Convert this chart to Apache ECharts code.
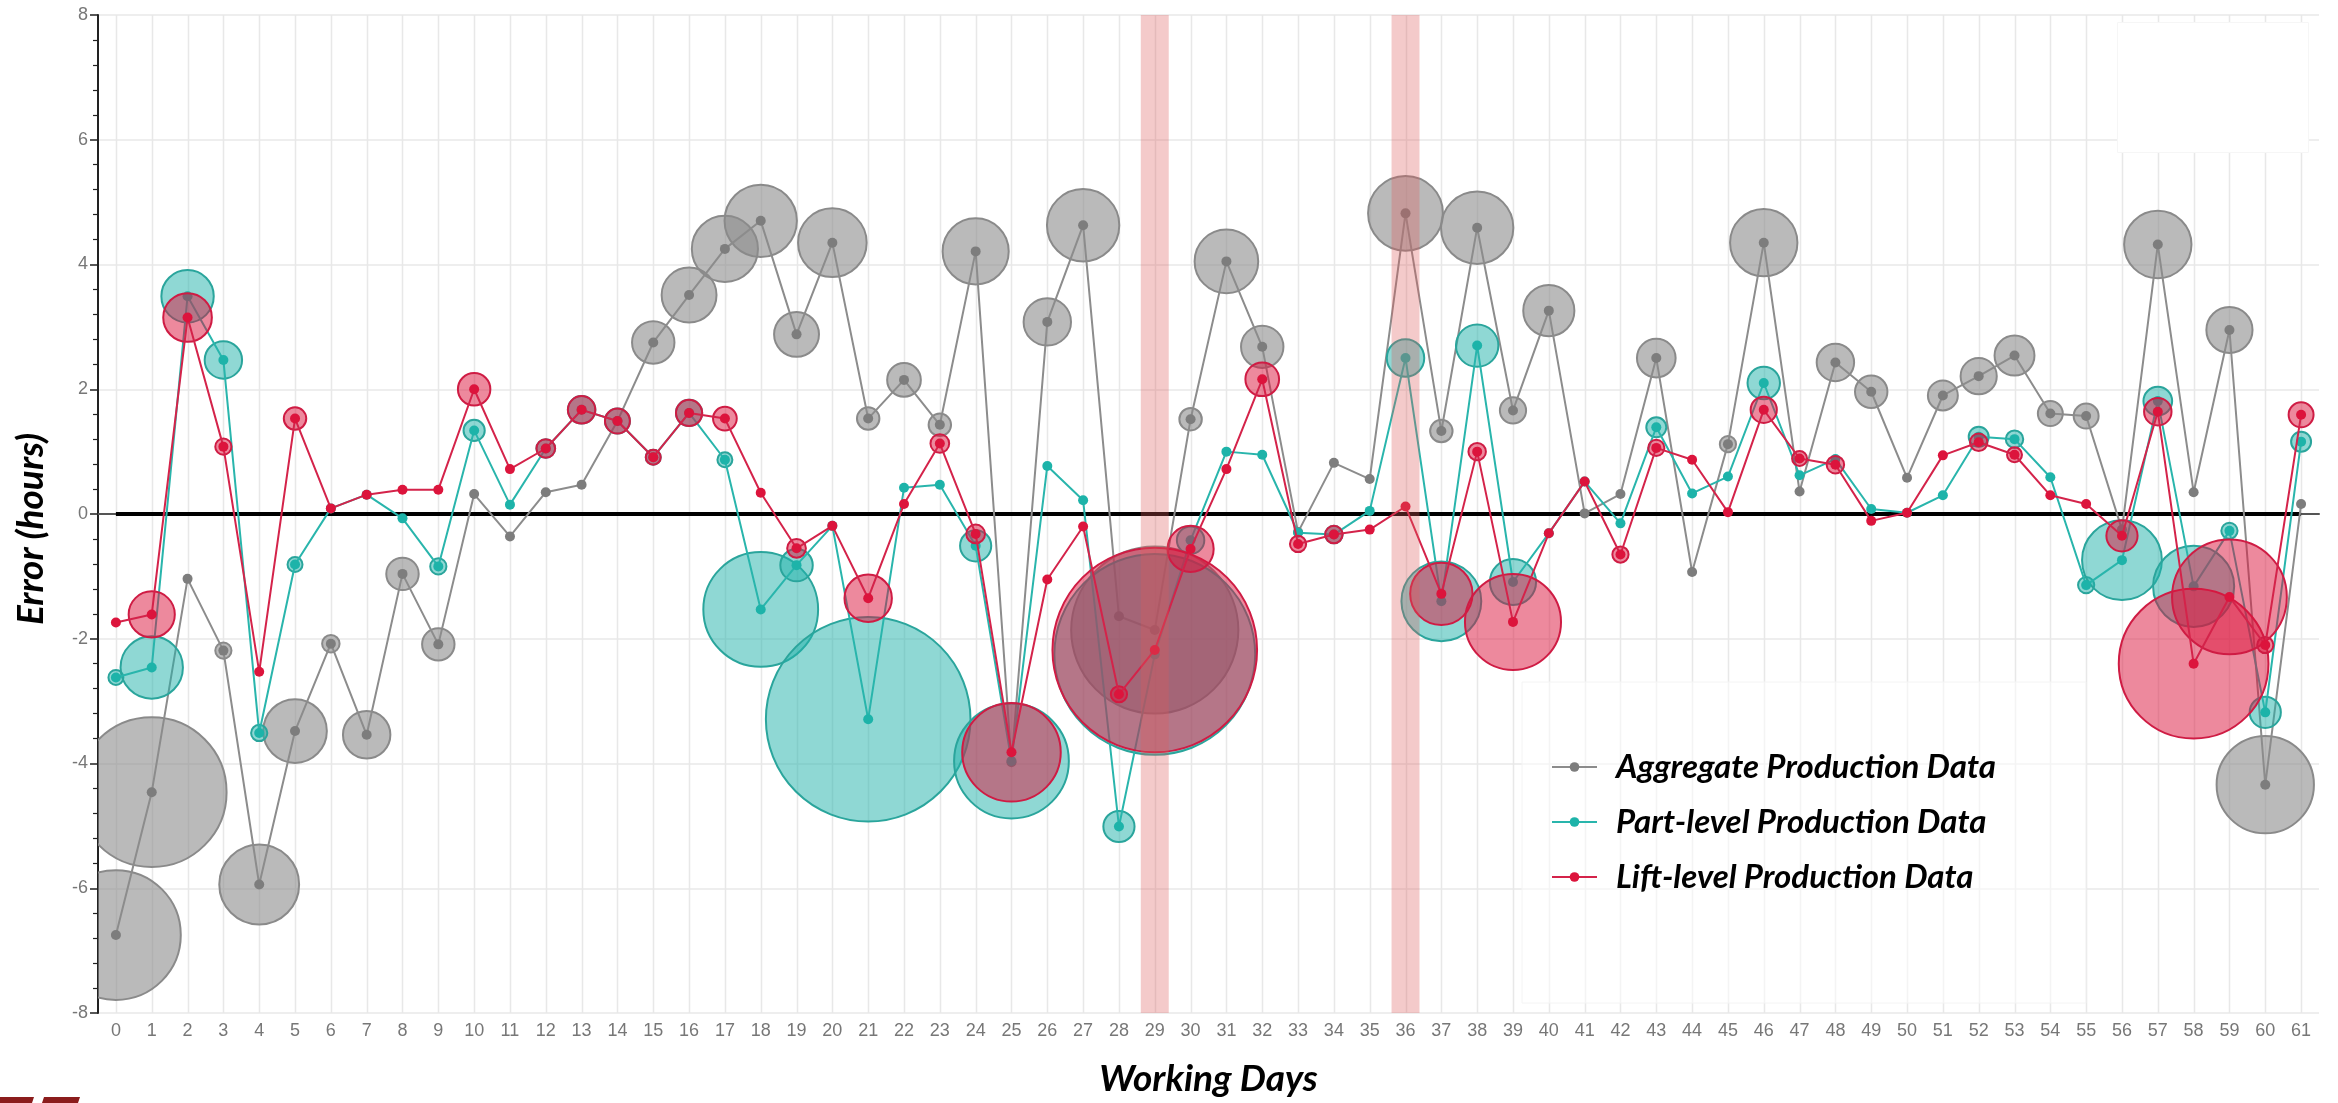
<!DOCTYPE html>
<html><head><meta charset="utf-8">
<script src="https://cdn.jsdelivr.net/npm/echarts@6/dist/echarts.min.js"></script>
<style>html,body{margin:0;padding:0;background:#fff}#c{width:2338px;height:1103px}</style>
</head><body><div id="c"></div>
<script>
const days = Array.from({length: 62}, (_, i) => String(i));

const aggregateError = [-6.75, -4.46, -1.04, -2.19, -5.94, -3.48, -2.08, -3.54, -0.96, -2.09,
  0.32, -0.36, 0.35, 0.47, 1.49, 2.75, 3.51, 4.25, 4.70, 2.88,
  4.35, 1.53, 2.15, 1.43, 4.21, -3.98, 3.08, 4.63, -1.64, -1.86,
  1.52, 4.05, 2.68, -0.29, 0.82, 0.56, 4.82, 1.33, 4.59, 1.66,
  3.26, 0.01, 0.32, 2.50, -0.93, 1.12, 4.35, 0.36, 2.43, 1.96,
  0.58, 1.90, 2.21, 2.54, 1.61, 1.57, -0.25, 4.32, 0.35, 2.95,
  -4.34, 0.16];
const aggregateSpread = [1.04, 1.20, 0, 0.13, 0.64, 0.51, 0.14, 0.38, 0.26, 0.26,
  0, 0, 0, 0, 0, 0.34, 0.44, 0.53, 0.58, 0.36,
  0.55, 0.18, 0.27, 0.18, 0.53, 0, 0.38, 0.58, 0, 1.34,
  0.18, 0.51, 0.34, 0, 0, 0, 0.60, 0.18, 0.58, 0.21,
  0.41, 0, 0, 0.31, 0, 0.13, 0.54, 0, 0.30, 0.26,
  0, 0.24, 0.29, 0.32, 0.20, 0.20, 0, 0.54, 0, 0.37,
  0.78, 0];

const partError = [-2.62, -2.46, 3.49, 2.47, -3.51, -0.81, 0.09, 0.31, -0.07, -0.84,
  1.34, 0.15, 1.05, 1.67, 1.49, 0.91, 1.62, 0.87, -1.53, -0.82,
  -0.19, -3.29, 0.42, 0.47, -0.51, -3.96, 0.77, 0.22, -5.01, -2.25,
  -0.42, 1.00, 0.95, -0.30, -0.33, 0.05, 2.50, -1.40, 2.70, -1.09,
  -0.31, 0.52, -0.15, 1.39, 0.33, 0.60, 2.10, 0.62, 0.88, 0.08,
  0.02, 0.30, 1.24, 1.20, 0.59, -1.14, -0.74, 1.81, -1.16, -0.27,
  -3.18, 1.16];
const partSpread = [0.12, 0.50, 0.42, 0.30, 0.13, 0.12, 0, 0, 0, 0.13,
  0.17, 0, 0.15, 0.22, 0.20, 0.12, 0.21, 0.12, 0.92, 0.26,
  0, 1.64, 0, 0, 0.25, 0.92, 0, 0, 0.25, 1.61,
  0.22, 0, 0, 0, 0.14, 0, 0.30, 0.64, 0.34, 0.37,
  0, 0, 0, 0.16, 0, 0, 0.26, 0, 0, 0,
  0, 0, 0.16, 0.14, 0, 0.13, 0.64, 0.23, 0.65, 0.13,
  0.25, 0.16];

const liftError = [-1.74, -1.61, 3.15, 1.08, -2.53, 1.53, 0.09, 0.31, 0.39, 0.39,
  2.00, 0.72, 1.05, 1.67, 1.49, 0.91, 1.62, 1.53, 0.34, -0.55,
  -0.19, -1.35, 0.16, 1.13, -0.32, -3.82, -1.05, -0.20, -2.89, -2.18,
  -0.56, 0.72, 2.16, -0.48, -0.33, -0.25, 0.12, -1.28, 1.00, -1.73,
  -0.31, 0.52, -0.65, 1.06, 0.87, 0.03, 1.67, 0.89, 0.79, -0.11,
  0.02, 0.94, 1.15, 0.95, 0.30, 0.16, -0.35, 1.64, -2.40, -1.33,
  -2.10, 1.59];
const liftSpread = [0, 0.37, 0.39, 0.13, 0, 0.18, 0, 0, 0, 0,
  0.26, 0, 0.15, 0.22, 0.20, 0.12, 0.21, 0.19, 0, 0.15,
  0, 0.38, 0, 0.15, 0.15, 0.79, 0, 0, 0.13, 1.64,
  0.37, 0, 0.27, 0.13, 0.14, 0, 0, 0.50, 0.14, 0.77,
  0, 0, 0.13, 0.13, 0, 0, 0.21, 0.12, 0.14, 0,
  0, 0, 0.14, 0.12, 0, 0, 0.25, 0.22, 1.20, 0.92,
  0.13, 0.20];

const highlightDays = [29, 36];
const seriesNames = ['Aggregate Production Data', 'Part-level Production Data', 'Lift-level Production Data'];

const chart = echarts.init(document.getElementById('c'), null, {renderer: 'canvas'});

function bubbleSeries(name, values, spreads, fill, stroke, z) {
  return {
    type: 'custom', name: name + ' (spread)', z: z, clip: true, silent: true,
    data: values.map((v, i) => [i, v, spreads[i]]),
    renderItem(params, api) {
      const r = api.value(2);
      if (!r) return null;
      const c = api.coord([api.value(0), api.value(1)]);
      const rp = Math.abs(api.size([0, r])[1]);
      return {type: 'circle', shape: {cx: c[0], cy: c[1], r: rp},
        style: {fill: fill, stroke: stroke, lineWidth: 2}};
    }
  };
}
function lineSeries(name, values, color, lineColor, z) {
  return {
    type: 'line', name: name, z: z, data: values, symbol: 'circle', symbolSize: 10,
    showAllSymbol: true, silent: true,
    itemStyle: {color: color},
    lineStyle: {color: lineColor, width: 2}
  };
}

const titleFont = {fontFamily: 'Lato', fontWeight: 'bold', fontStyle: 'italic', color: '#000'};

const option = {
  animation: false,
  backgroundColor: '#fff',
  grid: {left: 98, right: 19, top: 15, bottom: 85, containLabel: false},
  xAxis: {
    type: 'category', data: days, boundaryGap: true,
    name: 'Working Days', nameLocation: 'middle', nameGap: 48,
    nameTextStyle: Object.assign({fontSize: 37}, titleFont),
    axisLine: {lineStyle: {color: '#555', width: 2}},
    axisTick: {alignWithLabel: true, length: 6, lineStyle: {color: '#333', width: 1.5}},
    axisLabel: {interval: 0, fontSize: 18, color: '#777', margin: 9, fontFamily: 'Liberation Sans'},
    splitLine: {show: false}
  },
  yAxis: {
    type: 'value', min: -8, max: 8, interval: 2,
    name: 'Error (hours)', nameLocation: 'middle', nameGap: 48, nameRotate: 90,
    nameTextStyle: Object.assign({fontSize: 37, padding: [0, 30, 0, 0]}, titleFont),
    axisLine: {show: true, lineStyle: {color: '#222', width: 2}},
    axisTick: {show: true, length: 8, lineStyle: {color: '#222', width: 1.5}},
    minorTick: {show: true, splitNumber: 5, length: 5, lineStyle: {color: '#222', width: 1.2}},
    axisLabel: {fontSize: 18, color: '#777', margin: 10, fontFamily: 'Liberation Sans'},
    splitLine: {lineStyle: {color: '#e8e8e8', width: 1.5}}
  },
  legend: {
    data: seriesNames, orient: 'vertical', left: 1522, top: 682,
    padding: [68, 90, 109, 29], itemGap: 21, itemWidth: 45, itemHeight: 12,
    selectedMode: false,
    backgroundColor: 'rgba(255,255,255,0.5)', borderColor: '#f4f4f4', borderWidth: 1,
    textStyle: Object.assign({fontSize: 33, lineHeight: 34, padding: [0, 0, 0, 14]}, titleFont)
  },
  graphic: [
    {type: 'rect', left: 2117, top: 22, shape: {width: 191, height: 130}, style: {fill: '#fff', stroke: '#f6f6f6'}, z: 50, silent: true},
    {type: 'polygon', shape: {points: [[0, 1097], [34, 1097], [32, 1103], [0, 1103]]}, style: {fill: '#8b1c1c'}, silent: true},
    {type: 'polygon', shape: {points: [[44, 1097], [80, 1097], [78, 1103], [42, 1103]]}, style: {fill: '#8b1c1c'}, silent: true}
  ],
  series: [
    {
      type: 'custom', name: 'grid-x', z: 0, silent: true, clip: true,
      data: days.map((d, i) => [i, 0]),
      renderItem(params, api) {
        const cs = params.coordSys;
        const x = Math.round(api.coord([api.value(0), 0])[0]) + 0.5;
        return {type: 'line', shape: {x1: x, y1: cs.y, x2: x, y2: cs.y + cs.height},
          style: {stroke: '#e8e8e8', lineWidth: 1.5}};
      }
    },
    {
      type: 'line', name: 'zero', z: 1, data: days.map(() => 0), symbol: 'none', silent: true,
      lineStyle: {color: '#000', width: 4}
    },
    bubbleSeries(seriesNames[0], aggregateError, aggregateSpread, 'rgba(140,140,140,0.6)', '#8a8a8a', 2),
    lineSeries(seriesNames[0], aggregateError, '#7d7d7d', '#8c8c8c', 3),
    bubbleSeries(seriesNames[1], partError, partSpread, 'rgba(32,178,170,0.5)', '#2aa59c', 4),
    lineSeries(seriesNames[1], partError, '#1db3a9', '#29b5ac', 5),
    bubbleSeries(seriesNames[2], liftError, liftSpread, 'rgba(220,20,60,0.5)', '#cf1c44', 6),
    lineSeries(seriesNames[2], liftError, '#dc143c', '#d4234a', 7),
    {
      type: 'custom', name: 'highlight', z: 10, silent: true,
      data: highlightDays.map(d => [d, 0]),
      renderItem(params, api) {
        const cs = params.coordSys;
        const x = api.coord([api.value(0), 0])[0];
        const w = api.size([1, 0])[0] * 0.78;
        return {type: 'rect', shape: {x: x - w / 2, y: cs.y, width: w, height: cs.height},
          style: {fill: 'rgba(222,90,90,0.32)'}};
      }
    }
  ]
};
chart.setOption(option);
</script>
</body></html>
